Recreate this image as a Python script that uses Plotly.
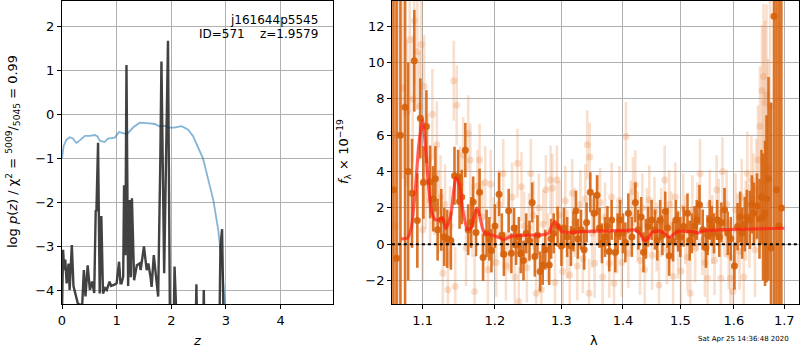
import plotly.graph_objects as go

# ---------------- left panel data ----------------
z_chi = [0.0, 0.03, 0.08, 0.14, 0.2, 0.26, 0.3, 0.36, 0.42, 0.51, 0.6, 0.65, 0.69, 0.78, 0.84,
         0.965, 1.045, 1.1, 1.19, 1.3, 1.42, 1.55, 1.70, 1.79, 1.88, 1.95, 2.05, 2.19, 2.31,
         2.40, 2.46, 2.52, 2.58, 2.67, 2.77, 2.86, 2.92, 2.98, 3.05]
chi_curve = [-1.0, -0.72, -0.58, -0.52, -0.55, -0.65, -0.62, -0.55, -0.49, -0.49, -0.47, -0.5,
             -0.6, -0.63, -0.55, -0.53, -0.4, -0.42, -0.45, -0.3, -0.19, -0.2, -0.22, -0.28,
             -0.26, -0.3, -0.3, -0.27, -0.35, -0.5, -0.66, -0.82, -1.0, -1.45, -1.95, -2.63,
             -3.31, -4.3, -5.5]

z_pz = [0.0, 0.02, 0.04, 0.06, 0.085, 0.12, 0.14, 0.16, 0.18, 0.21, 0.25, 0.29, 0.33, 0.37,
        0.40, 0.43, 0.47, 0.51, 0.55, 0.59, 0.617, 0.63, 0.66, 0.69, 0.72, 0.75, 0.79, 0.82,
        0.87, 0.90, 0.96, 1.00, 1.045, 1.07, 1.09, 1.12, 1.136, 1.16, 1.18, 1.21, 1.24, 1.26,
        1.28, 1.32, 1.37, 1.42, 1.44, 1.50, 1.55, 1.58, 1.62, 1.64, 1.68, 1.72, 1.76, 1.80,
        1.82, 1.87, 1.94, 1.98, 2.03, 2.06, 2.09, 2.2, 2.43, 2.46, 2.49, 2.57, 2.595, 2.62,
        2.87, 2.90, 2.93, 2.96, 3.0]
log_pz = [-4.5, -3.08, -3.54, -3.3, -3.84, -3.39, -3.99, -3.6, -2.97, -3.9, -4.14, -4.3,
          -4.33, -4.32, -3.54, -4.14, -3.43, -3.99, -3.8, -4.06, -2.18, -2.2, -0.645, -4.07,
          -2.31, -4.07, -3.95, -3.99, -3.8, -3.9, -3.87, -3.84, -3.35, -3.84, -3.84, -3.69,
          -1.61, -3.2, 1.12, -3.9, -1.95, -3.7, -1.91, -3.77, -3.43, -3.39, -3.54, -3.0,
          -3.54, -3.39, -3.69, -3.92, -3.2, -3.69, -4.14, -1.0, 1.2, -3.61, 1.67, -5.5, -6.0,
          -3.46, -6.0, -8.0, -6.0, -3.86, -6.0, -6.0, -3.99, -6.0, -6.0, -3.0, -2.61, -6.0, -8.0]

# ---------------- right panel data ----------------
lam_a = [1.062, 1.066, 1.071, 1.077, 1.081, 1.086, 1.089, 1.093, 1.097, 1.101, 1.105, 1.110,
         1.114, 1.117, 1.120, 1.125, 1.129, 1.133, 1.138, 1.143, 1.148, 1.150, 1.153, 1.158,
         1.162, 1.166, 1.169, 1.173, 1.178, 1.183, 1.188, 1.192, 1.195, 1.200, 1.206, 1.210,
         1.213, 1.220, 1.224, 1.228, 1.231, 1.235, 1.238, 1.242, 1.246, 1.251, 1.255, 1.259,
         1.263, 1.267, 1.271, 1.275, 1.281, 1.284, 1.288, 1.294, 1.300, 1.304, 1.309, 1.315,
         1.319, 1.323, 1.326, 1.331, 1.336, 1.340, 1.346, 1.352, 1.357, 1.361, 1.365, 1.370,
         1.374, 1.377, 1.381, 1.387, 1.391, 1.395, 1.400, 1.404, 1.409, 1.415, 1.421, 1.426,
         1.431, 1.435, 1.439, 1.443, 1.449, 1.455, 1.459, 1.464, 1.468, 1.473, 1.477, 1.480,
         1.487, 1.492, 1.496, 1.500, 1.506, 1.513, 1.517, 1.521, 1.526, 1.530, 1.535, 1.541,
         1.547, 1.550, 1.554, 1.558, 1.562, 1.568, 1.572, 1.576, 1.582, 1.588, 1.594, 1.601,
         1.607, 1.612, 1.616, 1.621, 1.625, 1.631, 1.635, 1.639, 1.645, 1.650, 1.654, 1.657,
         1.661, 1.664, 1.668, 1.673, 1.679, 1.684, 1.689, 1.694]
flux_a = [3.0, -0.77, 6.0, 7.54, 4.0, 2.8, 10.1, 1.3, 6.93, 3.4, 6.48, 3.43,
          2.5, 3.6, 0.8, 1.34, 0.4, 0.3, 0.2, 3.77, 3.7, 2.35, 2.6, 5.18,
          0.8, 1.2, 2.33, 0.64, 2.86, -0.73, 0.6, 0.3, -0.35, 1.0, 2.75, 0.5,
          -0.55, 1.85, -0.5, 0.9, -0.04, 0.4, -0.5, -0.9, 0.6, 0.2, 2.3, -0.68,
          0.5, -1.5, -1.14, -0.3, -1.14, 0.3, 0.6, 0.97, -0.1, 0.9, 0.4, -0.1,
          0.7, 1.85, 0.3, 0.8, -0.3, 1.2, 2.86, 1.7, 2.7, 0.9, 0.05, 0.4,
          1.0, -0.4, 1.34, -0.45, 0.6, 1.34, 0.6, 0.1, 1.7, 0.4, 2.3, 0.8,
          1.5, -0.44, 0.3, 0.97, 1.34, 0.8, 0.2, 1.34, 0.5, 1.8, 0.9, -0.64,
          0.15, 1.34, 0.7, 0.4, 0.97, 1.7, 0.2, 0.6, 1.0, 1.34, 2.17, 0.8,
          -0.2, 0.5, 1.34, 1.0, 0.6, 1.34, 0.4, 1.2, 1.9, 0.6, 0.3, -1.2,
          0.97, 1.5, 0.6, 1.1, 1.5, 1.34, 2.2, 1.7, 2.1, 1.4, 2.6, 1.5,
          1.7, 2.5, 3.6, -0.2, 12.55, 3.0, 1.0, 2.0]
err_a = [30, 30, 25, 15, 6, 3.0, 2.8, 2.6, 2.2, 2.0, 2.0, 2.0,
         1.8, 1.8, 1.7, 1.7, 1.6, 1.6, 1.6, 1.6, 1.5, 1.5, 1.5, 1.5,
         1.4, 1.4, 1.4, 1.3, 1.3, 1.3, 1.3, 1.2, 1.2, 1.2, 1.2, 1.2,
         1.2, 1.2, 1.1, 1.1, 1.1, 1.1, 1.1, 1.1, 1.1, 1.1, 1.1, 1.1,
         1.1, 1.1, 1.1, 1.1, 1.1, 1.1, 1.1, 1.1, 1.1, 1.1, 1.1, 1.1,
         1.1, 1.1, 1.1, 1.1, 1.1, 1.1, 1.1, 1.1, 1.1, 1.1, 1.1, 1.1,
         1.1, 1.1, 1.1, 1.1, 1.1, 1.1, 1.1, 1.1, 1.1, 1.1, 1.1, 1.1,
         1.1, 1.1, 1.1, 1.1, 1.1, 1.1, 1.1, 1.1, 1.1, 1.1, 1.1, 1.1,
         1.1, 1.1, 1.1, 1.1, 1.1, 1.1, 1.1, 1.1, 1.1, 1.1, 1.1, 1.1,
         1.1, 1.1, 1.1, 1.1, 1.1, 1.1, 1.1, 1.1, 1.2, 1.2, 1.2, 1.3,
         1.3, 1.4, 1.4, 1.5, 1.5, 1.6, 1.6, 1.7, 1.8, 2.2, 2.6, 3.5,
         4.0, 4.6, 5.6, 8.0, 25, 30, 30, 30]

lam_b = [1.064, 1.068, 1.074, 1.079, 1.083, 1.087, 1.089, 1.093, 1.096, 1.098, 1.100, 1.102,
         1.104, 1.107, 1.110, 1.113, 1.116, 1.119, 1.121, 1.124, 1.127, 1.130, 1.134, 1.137,
         1.142, 1.144, 1.146, 1.151, 1.155, 1.159, 1.162, 1.165, 1.168, 1.171, 1.175, 1.178,
         1.182, 1.186, 1.190, 1.194, 1.198, 1.202, 1.206, 1.212, 1.216, 1.220, 1.225, 1.229,
         1.233, 1.235, 1.239, 1.243, 1.247, 1.250, 1.253, 1.257, 1.261, 1.265, 1.269, 1.272,
         1.276, 1.279, 1.283, 1.286, 1.290, 1.293, 1.297, 1.302, 1.306, 1.309, 1.313, 1.317,
         1.321, 1.325, 1.330, 1.334, 1.338, 1.341, 1.344, 1.345, 1.349, 1.353, 1.358, 1.362,
         1.366, 1.370, 1.377, 1.381, 1.385, 1.390, 1.394, 1.398, 1.405, 1.409, 1.413, 1.417,
         1.421, 1.425, 1.429, 1.433, 1.437, 1.441, 1.445, 1.450, 1.454, 1.458, 1.462, 1.466,
         1.472, 1.476, 1.480, 1.484, 1.487, 1.491, 1.496, 1.501, 1.505, 1.509, 1.513, 1.518,
         1.522, 1.527, 1.531, 1.536, 1.540, 1.545, 1.550, 1.554, 1.559, 1.563, 1.567, 1.571,
         1.575, 1.578, 1.582, 1.586, 1.590, 1.593, 1.598, 1.603, 1.607, 1.611, 1.615, 1.619,
         1.623, 1.626, 1.630, 1.634, 1.638, 1.641, 1.644, 1.647, 1.651, 1.655, 1.658, 1.661,
         1.664, 1.667, 1.671]
flux_b = [1.0, 6.0, 8.6, 7.2, 11.25, 8.0, 12.3, 10.6, 7.6, 11.0, 0.8, 8.7,
          3.45, 4.6, 2.44, 7.15, 2.9, 5.47, 1.8, 2.6, -1.6, 2.2, -2.5, 1.0,
          9.0, -2.33, 7.65, 3.3, 4.9, -0.2, 6.1, 4.64, 1.3, -2.6, 3.2, 4.64,
          1.5, 3.4, -1.4, 3.3, 0.7, -1.0, 2.2, 3.9, -1.2, 0.4, 2.6, -1.8,
          4.46, -3.16, 3.17, 1.0, -1.3, 0.9, 3.9, 1.6, -2.7, 2.0, -2.5, 1.1,
          3.0, -0.2, 3.54, 3.08, -2.1, 3.54, 1.6, -1.5, 2.4, 0.0, -1.7, 2.8,
          1.2, -1.2, 2.2, -0.8, 2.5, 5.47, -2.7, 4.8, 0.6, -1.05, 1.9, 2.3,
          -1.8, 1.5, -1.05, 2.6, -2.15, 0.3, 2.4, -1.0, 5.93, -0.5, 1.6, 2.9,
          3.27, 1.0, -0.9, 2.0, -1.4, 1.2, 2.44, -0.6, 1.8, 0.4, -2.24, 1.2,
          3.54, -0.3, 2.2, 1.0, -1.78, 2.6, 0.0, -1.47, 2.0, 0.8, -0.7, -2.7,
          1.9, -0.2, 1.5, 3.9, 0.2, -1.0, -1.87, 2.2, 0.8, -0.9, 3.0, 1.7,
          -1.87, 4.0, 1.2, 2.2, -0.6, -1.87, -2.6, 1.9, 0.8, -0.4, 2.6, -1.8,
          1.3, 3.9, 1.0, 3.54, 2.5, -0.3, 3.0, 4.64, 6.5, 8.46, 9.23, 7.8,
          8.2, 4.2, 7.6]
err_b = [30, 15, 5, 4, 4, 3.5, 3.5, 3.2, 3, 3, 2.8, 2.8,
         2.6, 2.6, 2.5, 2.5, 2.4, 2.4, 2.3, 2.3, 2.2, 2.2, 2.2, 2.2,
         2.2, 2.2, 2.2, 2.1, 2.1, 2.1, 2.1, 2.0, 2.0, 2.0, 2.0, 2.0,
         2.0, 2.0, 2.0, 1.9, 1.9, 1.9, 1.9, 1.9, 1.9, 1.9, 1.9, 1.9,
         1.9, 1.9, 1.9, 1.9, 1.9, 1.9, 1.9, 1.9, 1.9, 1.9, 1.9, 1.9,
         1.9, 1.9, 1.9, 1.9, 1.9, 1.9, 1.9, 1.9, 1.9, 1.9, 1.9, 1.9,
         1.9, 1.9, 1.9, 1.9, 1.9, 1.9, 1.9, 1.9, 1.9, 1.9, 1.9, 1.9,
         1.9, 1.9, 1.9, 1.9, 1.9, 1.9, 1.9, 1.9, 1.9, 1.9, 1.9, 1.9,
         1.9, 1.9, 1.9, 1.9, 1.9, 1.9, 1.9, 1.9, 1.9, 1.9, 1.9, 1.9,
         1.9, 1.9, 1.9, 1.9, 1.9, 1.9, 1.9, 1.9, 1.9, 1.9, 1.9, 1.9,
         1.9, 1.9, 1.9, 1.9, 1.9, 1.9, 1.9, 1.9, 1.9, 1.9, 1.9, 1.9,
         1.9, 1.9, 1.9, 1.9, 1.9, 2.0, 2.0, 2.0, 2.0, 2.1, 2.1, 2.2,
         2.2, 2.3, 2.3, 2.4, 2.5, 2.6, 2.8, 3.0, 3.3, 3.6, 4.0, 4.5,
         5.0, 6, 8]

lam_model = [1.072, 1.08, 1.085, 1.09, 1.095, 1.100, 1.104, 1.108, 1.112, 1.117, 1.122,
             1.127, 1.131, 1.138, 1.141, 1.145, 1.150, 1.154, 1.157, 1.161, 1.166, 1.170,
             1.174, 1.178, 1.182, 1.186, 1.192, 1.200, 1.207, 1.213, 1.218, 1.225, 1.25,
             1.27, 1.28, 1.285, 1.29, 1.295, 1.30, 1.31, 1.35, 1.40, 1.42, 1.43, 1.436,
             1.442, 1.45, 1.46, 1.47, 1.477, 1.482, 1.488, 1.495, 1.51, 1.525, 1.533,
             1.54, 1.56, 1.60, 1.65, 1.70]
flux_model = [0.3, 0.35, 0.9, 2.8, 5.5, 6.84, 5.2, 3.17, 1.8, 1.35, 1.35,
              1.45, 0.87, 1.6, 2.6, 3.67, 3.3, 2.0, 1.35, 0.8, 0.9, 1.5,
              1.99, 1.6, 0.9, 0.6, 0.55, 0.45, 0.35, 0.25, 0.35, 0.45, 0.5,
              0.52, 0.6, 1.0, 1.25, 1.0, 0.7, 0.65, 0.72, 0.75, 0.78, 0.55, 0.2,
              0.3, 0.65, 0.72, 0.65, 0.45, 0.38, 0.55, 0.7, 0.72, 0.68, 0.62,
              0.72, 0.78, 0.82, 0.85, 0.88]

# ---------------- figure ----------------
FONT = "DejaVu Sans"
fig = go.Figure()

fig.add_trace(go.Scatter(x=z_chi, y=chi_curve, mode="lines",
                         line=dict(color="rgba(31,119,180,0.55)", width=1.8),
                         xaxis="x", yaxis="y", showlegend=False))
fig.add_trace(go.Scatter(x=z_pz, y=log_pz, mode="lines",
                         line=dict(color="rgba(40,40,40,0.88)", width=2.4),
                         xaxis="x", yaxis="y", showlegend=False))

fig.add_trace(go.Scatter(x=lam_b, y=flux_b, mode="markers",
                         marker=dict(color="rgba(232,130,60,0.26)", size=7),
                         error_y=dict(type="data", array=err_b, color="rgba(232,130,60,0.26)",
                                      thickness=2.6, width=0),
                         xaxis="x2", yaxis="y2", showlegend=False))
fig.add_trace(go.Scatter(x=lam_a, y=flux_a, mode="markers",
                         marker=dict(color="rgba(214,98,12,0.92)", size=7),
                         error_y=dict(type="data", array=err_a, color="rgba(214,98,12,0.88)",
                                      thickness=2.6, width=0),
                         xaxis="x2", yaxis="y2", showlegend=False))
fig.add_trace(go.Scatter(x=[1.06, 1.735], y=[0, 0], mode="lines",
                         line=dict(color="black", width=2, dash="dot"),
                         xaxis="x2", yaxis="y2", showlegend=False))
fig.add_trace(go.Scatter(x=lam_model, y=flux_model, mode="lines",
                         line=dict(color="rgba(255,30,20,0.7)", width=3.2, shape="spline",
                                   smoothing=0.6),
                         xaxis="x2", yaxis="y2", showlegend=False))

axis_common = dict(showgrid=True, gridcolor="#b0b0b0", gridwidth=1, zeroline=False,
                   showline=True, linecolor="black", linewidth=1, mirror=True,
                   ticks="outside", ticklen=4, tickcolor="black", automargin=False,
                   tickfont=dict(family=FONT, size=13, color="black"))

fig.update_layout(
    width=800, height=350,
    margin=dict(l=62, r=1, t=1, b=46, pad=0),
    paper_bgcolor="white", plot_bgcolor="white",
    font=dict(family=FONT, color="black"),
    xaxis=dict(domain=[0, 0.3677], range=[0, 4.96], tickvals=[0, 1, 2, 3, 4], anchor="y",
               **axis_common),
    yaxis=dict(range=[-4.31, 2.575], tickvals=[-4, -3, -2, -1, 0, 1, 2], anchor="x",
               **axis_common),
    xaxis2=dict(domain=[0.4478, 1], type="log", range=[0.02539, 0.23813],
                tickvals=[1.1, 1.2, 1.3, 1.4, 1.5, 1.6, 1.7],
                ticktext=["1.1", "1.2", "1.3", "1.4", "1.5", "1.6", "1.7"], anchor="y2",
                **axis_common),
    yaxis2=dict(range=[-3.29, 13.39], tickvals=[-2, 0, 2, 4, 6, 8, 10, 12], anchor="x2",
                **axis_common),
)

def px_x(p):
    return (p - 62) / 737.0

def px_y(p):
    return (304 - p) / 303.0

ann = [
    dict(text="log <i>p</i>(<i>z</i>) / χ<sup>2</sup> = <sup>5009</sup>/<sub>5045</sub> = 0.99",
         x=px_x(13), y=px_y(152), textangle=-90, size=13),
    dict(text="<i>f</i><sub>λ</sub> × 10<sup>−19</sup>", x=px_x(344), y=px_y(152),
         textangle=-90, size=13),
    dict(text="<i>z</i>", x=px_x(197), y=px_y(340), textangle=0, size=13),
    dict(text="λ", x=px_x(594), y=px_y(340), textangle=0, size=13),
]
for a in ann:
    fig.add_annotation(text=a["text"], x=a["x"], y=a["y"], xref="paper", yref="paper",
                       showarrow=False, textangle=a["textangle"],
                       xanchor="center", yanchor="middle",
                       font=dict(family=FONT, size=a["size"], color="black"))

fig.add_annotation(text="j161644p5545", x=px_x(320), y=px_y(20), xref="paper", yref="paper",
                   showarrow=False, xanchor="right", yanchor="middle",
                   font=dict(family=FONT, size=12, color="black"))
fig.add_annotation(text="ID=571    z=1.9579", x=px_x(320), y=px_y(34), xref="paper",
                   yref="paper", showarrow=False, xanchor="right", yanchor="middle",
                   font=dict(family=FONT, size=12, color="black"))
fig.add_annotation(text="Sat Apr 25 14:36:48 2020", x=px_x(743), y=px_y(339), xref="paper",
                   yref="paper", showarrow=False, xanchor="center", yanchor="middle",
                   font=dict(family=FONT, size=7, color="black"))

fig.write_html("out.html", config={"displayModeBar": False},
               post_script="document.body.style.margin='0px';document.body.style.overflow='hidden';")
